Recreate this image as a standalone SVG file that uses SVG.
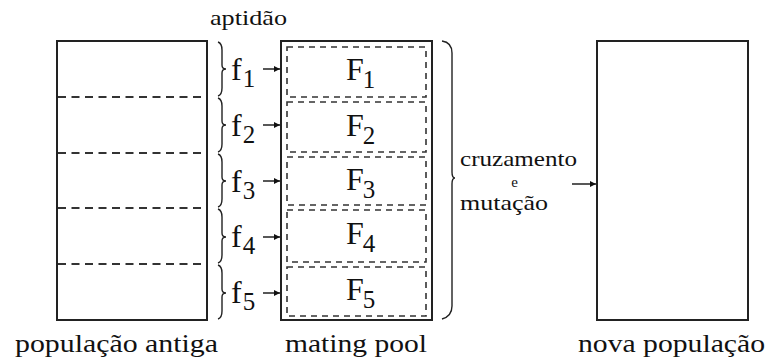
<svg xmlns="http://www.w3.org/2000/svg" width="771" height="364" viewBox="0 0 771 364">
<defs>
<style>
.box{fill:none;stroke:#222;stroke-width:2}
.dash{fill:none;stroke:#333;stroke-width:2;stroke-dasharray:8 5.5}
.cell{fill:none;stroke:#333;stroke-width:1.6;stroke-dasharray:6 5}
.br{fill:none;stroke:#222;stroke-width:1.4}
.arr{fill:none;stroke:#111;stroke-width:1.4;marker-end:url(#ah)}
text{font-family:'Liberation Serif','DejaVu Serif','Times New Roman',serif;fill:#111}
.lab{font-size:25px}
.sm{font-size:22px}
.big{font-size:32px}
.sub{font-size:25px}
</style>
<marker id="ah" markerUnits="userSpaceOnUse" markerWidth="8" markerHeight="8" refX="6" refY="4" orient="auto">
<path d="M0,1 L6,4 L0,7 Z" fill="#111"/>
</marker>
</defs>

<g id="populacao-antiga">
<rect class="box" x="57" y="41" width="150" height="279"/>
<line class="dash" x1="58" y1="97" x2="206" y2="97"/>
<line class="dash" x1="58" y1="153" x2="206" y2="153"/>
<line class="dash" x1="58" y1="208" x2="206" y2="208"/>
<line class="dash" x1="58" y1="264" x2="206" y2="264"/>
<text class="lab" x="15" y="352" textLength="203" lengthAdjust="spacingAndGlyphs">população antiga</text>
</g>

<g id="aptidao">
<text class="sm" x="210" y="25" textLength="77" lengthAdjust="spacingAndGlyphs">aptidão</text>
<path class="br" d="M218,42 C221,43 222,46 222,50 L222,65 C222,68 223,69 226,69 C223,69 222,70 222,73 L222,88 C222,92 221,95 218,96"/>
<path class="br" d="M218,98 C221,99 222,102 222,106 L222,121 C222,124 223,125 226,125 C223,125 222,126 222,129 L222,144 C222,148 221,151 218,152"/>
<path class="br" d="M218,154 C221,155 222,158 222,162 L222,177 C222,180 223,181 226,181 C223,181 222,182 222,185 L222,199 C222,203 221,206 218,207"/>
<path class="br" d="M218,209 C221,210 222,213 222,217 L222,233 C222,236 223,237 226,237 C223,237 222,238 222,241 L222,255 C222,259 221,262 218,263"/>
<path class="br" d="M218,265 C221,266 222,269 222,273 L222,289 C222,292 223,293 226,293 C223,293 222,294 222,297 L222,311 C222,315 221,318 218,319"/>
<text class="big" x="231" y="80">f<tspan class="sub" dx="1" dy="7">1</tspan></text>
<text class="big" x="231" y="136">f<tspan class="sub" dx="1" dy="7">2</tspan></text>
<text class="big" x="231" y="192">f<tspan class="sub" dx="1" dy="7">3</tspan></text>
<text class="big" x="231" y="247">f<tspan class="sub" dx="1" dy="7">4</tspan></text>
<text class="big" x="231" y="303">f<tspan class="sub" dx="1" dy="7">5</tspan></text>
</g>

<g id="mating-pool">
<rect class="box" x="281" y="41" width="151" height="279"/>
<rect class="cell" x="287" y="47" width="139" height="50"/>
<rect class="cell" x="287" y="102" width="139" height="50"/>
<rect class="cell" x="287" y="157" width="139" height="48"/>
<rect class="cell" x="287" y="210" width="139" height="52"/>
<rect class="cell" x="287" y="267" width="139" height="49"/>
<text class="big" x="346" y="80">F<tspan class="sub" dx="-1" dy="8">1</tspan></text>
<text class="big" x="346" y="136">F<tspan class="sub" dx="-1" dy="8">2</tspan></text>
<text class="big" x="346" y="190">F<tspan class="sub" dx="-1" dy="8">3</tspan></text>
<text class="big" x="346" y="244">F<tspan class="sub" dx="-1" dy="8">4</tspan></text>
<text class="big" x="346" y="300">F<tspan class="sub" dx="-1" dy="8">5</tspan></text>
<text class="lab" x="285" y="352" textLength="142" lengthAdjust="spacingAndGlyphs">mating pool</text>
</g>

<g id="cruzamento-mutacao">
<path class="br" d="M442,41 C449,42 452,46 452,53 L452,172 C452,176 453,178 455,178 C453,178 452,180 452,184 L452,306 C452,313 449,317 442,319"/>
<text class="sm" x="460" y="166" textLength="117" lengthAdjust="spacingAndGlyphs">cruzamento</text>
<text x="514.5" y="187" font-size="15" text-anchor="middle">e</text>
<text class="sm" x="460" y="210" textLength="88" lengthAdjust="spacingAndGlyphs">mutação</text>
</g>

<g id="nova-populacao">
<rect class="box" x="597" y="41" width="151" height="279"/>
<text class="lab" x="578" y="352" textLength="187" lengthAdjust="spacingAndGlyphs">nova população</text>
</g>

<g id="connectors">
<line class="arr" x1="263" y1="69" x2="280" y2="69"/>
<line class="arr" x1="263" y1="125" x2="280" y2="125"/>
<line class="arr" x1="263" y1="181" x2="280" y2="181"/>
<line class="arr" x1="263" y1="237" x2="280" y2="237"/>
<line class="arr" x1="263" y1="293" x2="280" y2="293"/>
<line class="arr" x1="572" y1="184" x2="596" y2="184"/>
</g>
</svg>
